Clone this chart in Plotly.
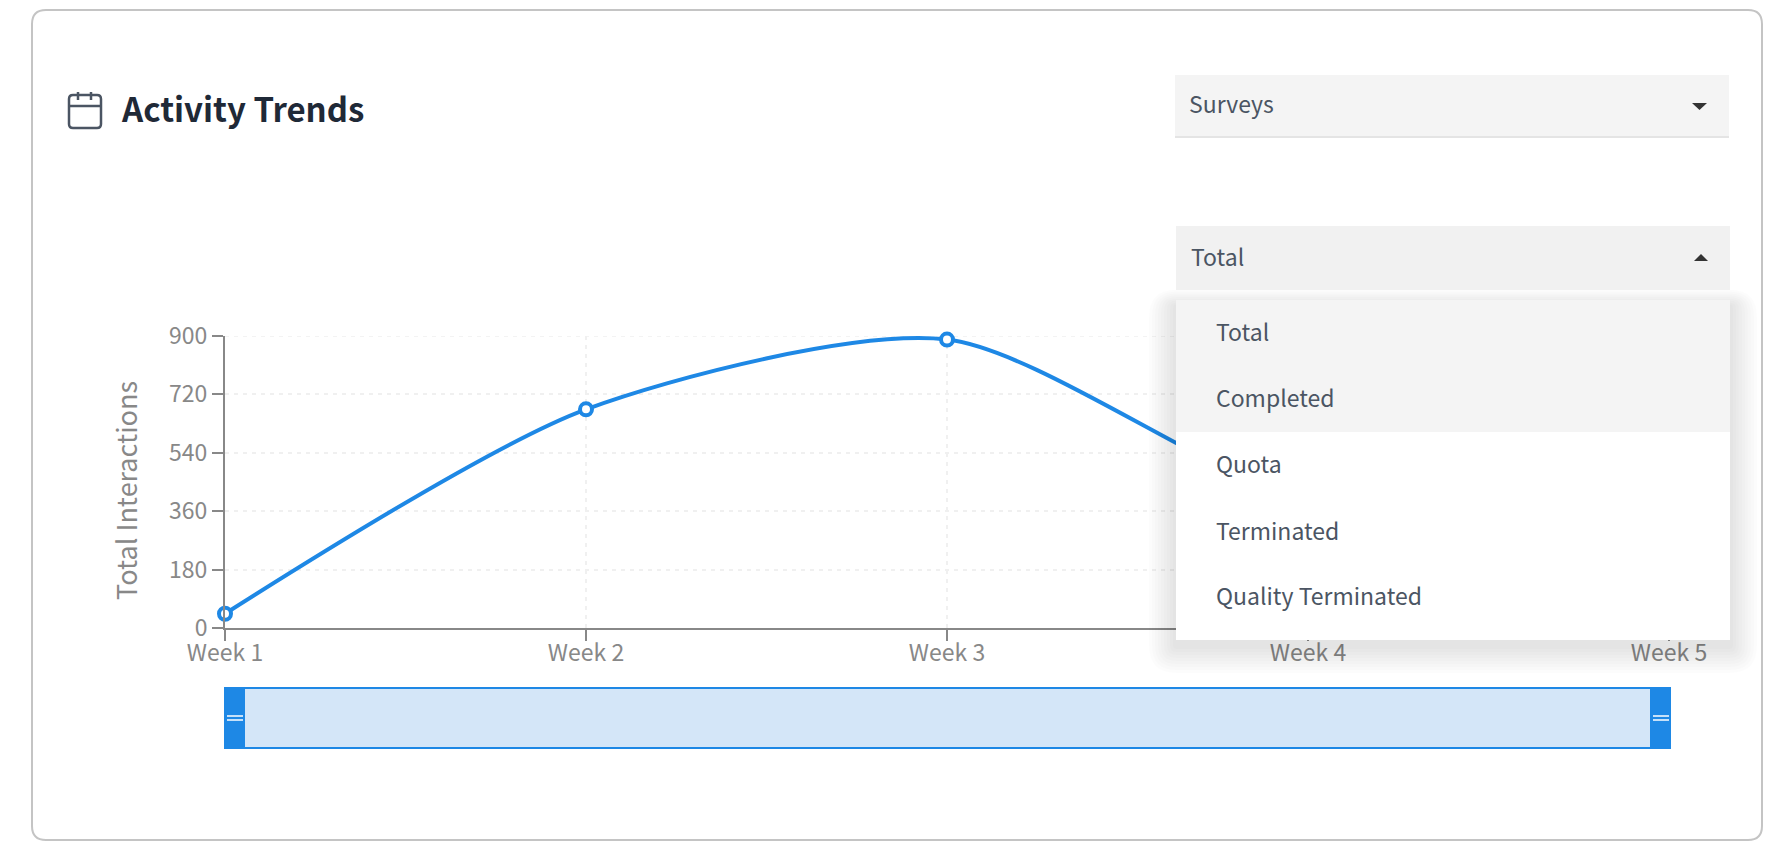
import plotly.graph_objects as go

W, H = 1778, 864
FONT = "Noto Sans CJK SC"

weeks = ["Week 1", "Week 2", "Week 3", "Week 4", "Week 5"]
interactions = [44, 674, 889, 390, 360]
y_ticks = [0, 180, 360, 540, 720, 900]
menu_items = ["Total", "Completed", "Quota", "Terminated", "Quality Terminated"]
title_text = "Activity Trends"
y_title = "Total Interactions"
dropdown_top = "Surveys"
dropdown_metric = "Total"

BLUE = "#1e88e5"
GREY = "#888888"
SLATE = "#4b5563"
GRID = "#f0f0f0"


def px(x):
    return x / W


def py(y):
    return 1 - y / H


def rect(x0, y0, x1, y1, fill, line=None, lw=0):
    return dict(type="rect", xref="paper", yref="paper", layer="above",
                x0=px(x0), x1=px(x1), y0=py(y0), y1=py(y1), fillcolor=fill,
                line=dict(color=line or fill, width=lw))


def seg(x0, y0, x1, y1, color, lw):
    return dict(type="line", xref="paper", yref="paper", layer="above",
                x0=px(x0), x1=px(x1), y0=py(y0), y1=py(y1),
                line=dict(color=color, width=lw))


def path(points, fill=None, line=None, lw=0):
    d = "M " + " L ".join(f"{px(a):.6f},{py(b):.6f}" for a, b in points) + " Z"
    return dict(type="path", xref="paper", yref="paper", layer="above", path=d,
                fillcolor=fill or "rgba(0,0,0,0)",
                line=dict(color=line or "rgba(0,0,0,0)", width=lw))


def rounded(x0, y0, x1, y1, r, color, lw, fill="rgba(0,0,0,0)", layer="below"):
    X0, X1, Y0, Y1 = px(x0), px(x1), py(y0), py(y1)
    rx, ry = r / W, r / H
    d = (f"M {X0+rx:.6f},{Y0:.6f} L {X1-rx:.6f},{Y0:.6f} Q {X1:.6f},{Y0:.6f} {X1:.6f},{Y0-ry:.6f} "
         f"L {X1:.6f},{Y1+ry:.6f} Q {X1:.6f},{Y1:.6f} {X1-rx:.6f},{Y1:.6f} "
         f"L {X0+rx:.6f},{Y1:.6f} Q {X0:.6f},{Y1:.6f} {X0:.6f},{Y1+ry:.6f} "
         f"L {X0:.6f},{Y0-ry:.6f} Q {X0:.6f},{Y0:.6f} {X0+rx:.6f},{Y0:.6f} Z")
    return dict(type="path", xref="paper", yref="paper", layer=layer, path=d,
                fillcolor=fill, line=dict(color=color, width=lw))


def label(x, y, text, size, color, anchor="left", weight=400, angle=0):
    return dict(xref="paper", yref="paper", x=px(x), y=py(y), text=text, showarrow=False,
                xanchor=anchor, yanchor="middle", textangle=angle,
                font=dict(family=FONT, size=size, color=color, weight=weight))


shapes = [rounded(32, 10, 1762, 840, 14, "#c4c4c4", 2)]

# top gridline, which the axis would clip at the end of its range
shapes.append(dict(type="line", xref="x domain", yref="y", layer="below", x0=0, x1=1,
                   y0=y_ticks[-1], y1=y_ticks[-1],
                   line=dict(color=GRID, width=1.5, dash="4px,5px")))

# calendar icon
shapes += [
    rounded(69, 95, 101, 128, 4, SLATE, 2.5),
    seg(69, 106, 101, 106, SLATE, 2.5),
    seg(78, 92, 78, 100, SLATE, 2.5),
    seg(91, 92, 91, 100, SLATE, 2.5),
]

# range slider
shapes += [
    rect(225, 688, 1670, 748, "#d4e6f8", BLUE, 2),
    rect(224, 687, 245, 749, BLUE),
    rect(1650, 687, 1671, 749, BLUE),
    seg(227, 716, 243, 716, "#ffffff", 1.5),
    seg(227, 720, 243, 720, "#ffffff", 1.5),
    seg(1653, 716, 1669, 716, "#ffffff", 1.5),
    seg(1653, 720, 1669, 720, "#ffffff", 1.5),
]

# first dropdown
shapes += [
    rect(1175, 75, 1729, 136, "#f4f4f4"),
    rect(1175, 136, 1729, 138, "#e4e4e4"),
    path([(1692, 103), (1707, 103), (1699.5, 110)], fill="#333333"),
]

# second dropdown
shapes += [
    rect(1176, 226, 1730, 290, "#f1f1f1"),
    path([(1694, 261), (1708, 261), (1701, 254)], fill="#333333"),
]

# soft menu shadow, offset downward
for grow in range(27, 0, -3):
    shapes.append(rounded(1176 - grow, 306 - grow * 0.6, 1730 + grow, 646 + grow, grow,
                          "rgba(0,0,0,0)", 0, fill="rgba(0,0,0,0.01)", layer="above"))
shapes += [
    rect(1176, 300, 1730, 640, "#ffffff"),
    rect(1176, 300, 1730, 432, "#f4f4f4"),
]

annotations = [
    label(119, 108, title_text, 33, "#1f2937", weight=700),
    label(1187, 103, dropdown_top, 23, SLATE),
    label(1189, 256, dropdown_metric, 23, SLATE),
    label(125, 491, y_title, 27, GREY, anchor="center", angle=-90),
]
for item, yy in zip(menu_items, [331, 397, 463, 530, 595]):
    annotations.append(label(1214, yy, item, 23, SLATE))

fig = go.Figure(go.Scatter(
    x=weeks, y=interactions, mode="lines+markers",
    line=dict(color=BLUE, width=4, shape="spline", smoothing=0.75),
    marker=dict(size=12, color="#ffffff", line=dict(color=BLUE, width=4)),
    cliponaxis=False, hoverinfo="x+y", showlegend=False,
))

axis_common = dict(
    showline=True, linecolor=GREY, linewidth=2, ticks="outside", ticklen=11,
    tickcolor=GREY, tickwidth=2, tickfont=dict(family=FONT, size=23, color=GREY),
    showgrid=True, gridcolor=GRID, griddash="4px,5px", gridwidth=1.5, zeroline=False,
    automargin=False,
)

fig.update_layout(
    width=W, height=H, margin=dict(l=0, r=0, t=0, b=0, autoexpand=False),
    paper_bgcolor="#ffffff", plot_bgcolor="#ffffff",
    font=dict(family=FONT, size=20, color=GREY),
    shapes=shapes, annotations=annotations,
    xaxis=dict(domain=[225 / W, 1669 / W], type="category", range=[0, 4],
               ticklabelstandoff=-8, **axis_common),
    yaxis=dict(domain=[1 - 628 / H, 1 - 336 / H], range=[0, 900],
               tickmode="array", tickvals=y_ticks, ticktext=[str(v) for v in y_ticks],
               **axis_common),
)

fig.write_html("out.html", config=dict(displayModeBar=False),
               post_script="document.body.style.margin='0';document.body.style.overflow='hidden';")
